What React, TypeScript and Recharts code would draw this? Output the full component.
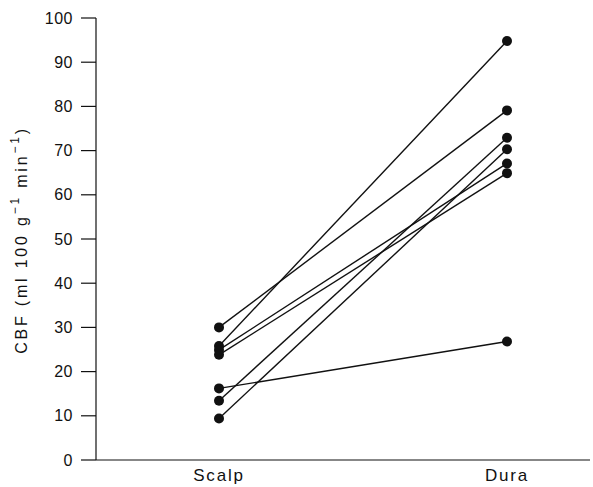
import { LineChart, Line, XAxis, YAxis } from "recharts";

// Sites where CBF was measured
const categories = ["Scalp", "Dura"];

// One entry per subject, paired by index
const scalpValues = [30, 25.8, 24.9, 23.8, 16.2, 13.4, 9.4];
const duraValues = [79.1, 94.8, 67.1, 64.9, 26.8, 72.9, 70.3];

const yTicks = [0, 10, 20, 30, 40, 50, 60, 70, 80, 90, 100];

const subjectKeys = scalpValues.map((_, i) => "s" + i);

const data = categories.map((cat, ci) => {
    const row: any = { site: cat };
    subjectKeys.forEach((key, i) => {
        row[key] = ci === 0 ? scalpValues[i] : duraValues[i];
    });
    return row;
});

const ink = "#111";
const font = "'Liberation Sans', Arial, Helvetica, sans-serif";

const YLabel = () => (
    <text
        x={27}
        y={240}
        transform="rotate(-90, 27, 240)"
        textAnchor="middle"
        fontSize={16}
        letterSpacing={2.8}
        fontFamily={font}
        fill={ink}>
        <tspan>CBF (ml 100 g</tspan>
        <tspan fontSize={12} dy={-8}>−1</tspan>
        <tspan dy={8}> min</tspan>
        <tspan fontSize={12} dy={-8}>−1</tspan>
        <tspan dy={8}>)</tspan>
    </text>
);

export default function App() {
    return (
        <div style={{ position: "absolute", left: 0, top: 0, background: "#fff" }}>
            <LineChart
                width={593}
                height={487}
                data={data}
                margin={{ top: 18, right: 3, left: 0, bottom: 0 }}>
                <XAxis
                    dataKey="site"
                    type="category"
                    padding={{ left: 123, right: 83 }}
                    axisLine={{ stroke: ink, strokeWidth: 1.2 }}
                    tickLine={false}
                    tickSize={0}
                    tickMargin={9}
                    height={27}
                    tick={{ fill: ink, fontSize: 17, fontFamily: font, letterSpacing: 1.8 }}
                />
                <YAxis
                    type="number"
                    domain={[0, 100]}
                    ticks={yTicks}
                    width={96}
                    axisLine={{ stroke: ink, strokeWidth: 1.2 }}
                    tickLine={{ stroke: ink, strokeWidth: 1.2 }}
                    tickSize={15}
                    tickMargin={8}
                    tick={{ fill: ink, fontSize: 16, fontFamily: font, letterSpacing: 0.5 }}
                    label={<YLabel />}
                />
                {subjectKeys.map((key) => (
                    <Line
                        key={key}
                        dataKey={key}
                        type="linear"
                        stroke={ink}
                        strokeWidth={1.4}
                        dot={{ r: 5, fill: ink, stroke: ink, strokeWidth: 0 }}
                        activeDot={false}
                        isAnimationActive={false}
                    />
                ))}
            </LineChart>
        </div>
    );
}
